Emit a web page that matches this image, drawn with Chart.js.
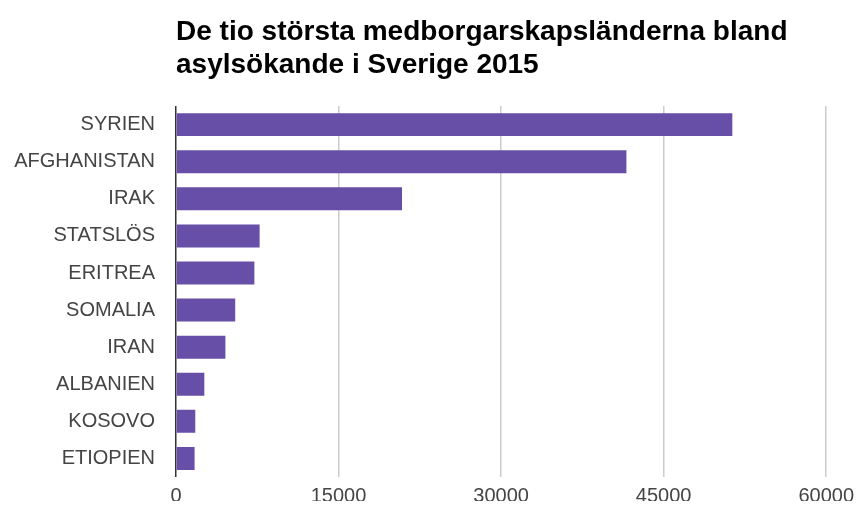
<!DOCTYPE html>
<html>
<head>
<meta charset="utf-8">
<script src="https://cdn.jsdelivr.net/npm/chart.js@4/dist/chart.umd.min.js"></script>
<style>
  html, body { margin: 0; padding: 0; background: #fff; }
  #wrap { width: 861px; height: 510px; position: relative; }
</style>
</head>
<body>
<div id="wrap"><canvas id="asylChart" width="861" height="510"></canvas></div>
<script>
// Data: asylsökande per medborgarskap, 2015
const countries = ['SYRIEN', 'AFGHANISTAN', 'IRAK', 'STATSLÖS', 'ERITREA', 'SOMALIA', 'IRAN', 'ALBANIEN', 'KOSOVO', 'ETIOPIEN'];
const applicants = [51338, 41564, 20858, 7716, 7233, 5465, 4560, 2615, 1779, 1716];
const xTicks = [0, 15000, 30000, 45000, 60000];
const titleLines = ['De tio största medborgarskapsländerna bland', 'asylsökande i Sverige 2015'];

const FONT = 'Arial, "Liberation Sans", sans-serif';

const ctx = document.getElementById('asylChart');
new Chart(ctx, {
    type: 'bar',
    data: {
        labels: countries,
        datasets: [{
            data: applicants,
            backgroundColor: '#674ea7',
            borderWidth: 0,
            categoryPercentage: 1,
            barPercentage: 0.62
        }]
    },
    options: {
        indexAxis: 'y',
        responsive: false,
        animation: false,
        layout: { padding: { left: 0, right: 18, top: 0, bottom: 0 } },
        plugins: {
            legend: { display: false },
            tooltip: { enabled: false },
            title: {
                display: true,
                text: titleLines,
                align: 'start',
                fullSize: false,
                color: '#000',
                font: { family: FONT, size: 28, weight: 'bold', lineHeight: 1.18 },
                padding: { top: 16, bottom: 24 }
            }
        },
        scales: {
            x: {
                min: 0,
                max: 60000,
                afterBuildTicks: (axis) => { axis.ticks = xTicks.map(v => ({ value: v })); },
                afterFit: (axis) => { axis.height = 24; },
                grid: {
                    color: (c) => c.tick && c.tick.value === 0 ? '#333' : '#cccccc',
                    lineWidth: 1.5,
                    drawTicks: false
                },
                border: { display: false },
                ticks: {
                    color: '#444',
                    font: { family: FONT, size: 20 },
                    padding: 7,
                    maxRotation: 0,
                    callback: (v) => String(v)
                }
            },
            y: {
                afterFit: (axis) => { axis.width = 176; },
                grid: { display: false, drawTicks: false },
                border: { display: false },
                ticks: {
                    color: '#444',
                    font: { family: FONT, size: 20 },
                    padding: 21
                }
            }
        }
    }
});
</script>
</body>
</html>
